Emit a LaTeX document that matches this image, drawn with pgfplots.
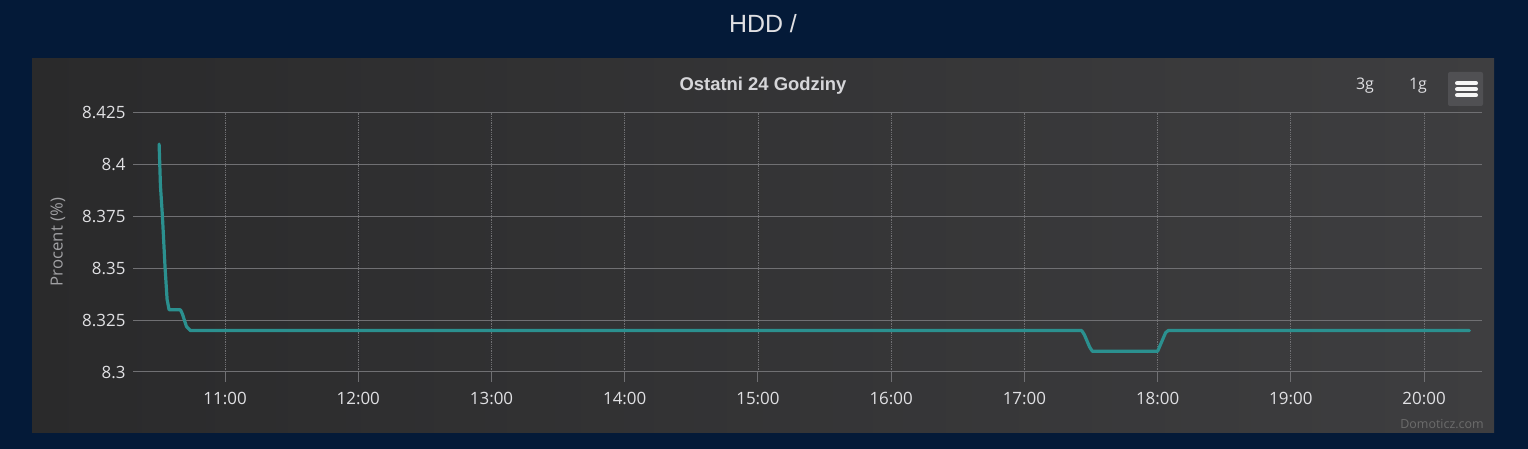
\documentclass[border=0pt]{standalone}
\usepackage{pgfplots}
\pgfplotsset{compat=1.18}
\usepackage{fontspec}
\setmainfont{Liberation Sans}
\newfontfamily\tickfont{Open Sans}
\definecolor{pagebg}{HTML}{041A38}
\definecolor{panelA}{HTML}{2A2A2B}
\definecolor{panelB}{HTML}{3E3E40}
\definecolor{gridc}{HTML}{707073}
\definecolor{txt}{HTML}{E0E0E3}
\definecolor{lbl}{HTML}{A0A0A3}
\definecolor{serie}{HTML}{2B908F}
\definecolor{btn}{HTML}{505053}
\begin{document}
\begin{tikzpicture}[x=1bp,y=1bp]
\fill[pagebg] (0,0) rectangle (1528,449);
\shade[left color=panelA,right color=panelB] (32,16) rectangle (1494,390);
\begin{axis}[
  at={(133bp,77bp)}, anchor=south west,
  scale only axis, width=1349bp, height=259bp,
  xmin=10.309, xmax=20.435, ymin=8.3, ymax=8.425,
  axis line style={draw=none},
  xtick={11,12,13,14,15,16,17,18,19,20},
  xticklabels={11:00,12:00,13:00,14:00,15:00,16:00,17:00,18:00,19:00,20:00},
  ytick={8.3,8.325,8.35,8.375,8.4,8.425},
  yticklabels={8.3,8.325,8.35,8.375,8.4,8.425},
  ymajorgrids, xmajorgrids,
  y grid style={gridc, line width=1bp},
  x grid style={gridc, line width=0.8bp, densely dotted},
  major tick length=0pt,
  tick style={draw=none},
  tick label style={font=\tickfont\fontsize{17}{20}\selectfont, text=txt},
  xticklabel style={yshift=-17bp},
  yticklabel style={xshift=-4bp},
  unbounded coords=jump,
  clip=false,
]
\addplot[gridc, line width=1bp, forget plot] coordinates {(10.309,8.3) (20.435,8.3)};
% x tick marks below the axis (10 px long)
\addplot[gridc, line width=1bp, forget plot] coordinates {
(11,8.3) (11,8.29517) (11,nan)
(12,8.3) (12,8.29517) (12,nan)
(13,8.3) (13,8.29517) (13,nan)
(14,8.3) (14,8.29517) (14,nan)
(15,8.3) (15,8.29517) (15,nan)
(16,8.3) (16,8.29517) (16,nan)
(17,8.3) (17,8.29517) (17,nan)
(18,8.3) (18,8.29517) (18,nan)
(19,8.3) (19,8.29517) (19,nan)
(20,8.3) (20,8.29517)
};
\addplot[serie, line width=3.2bp, line join=round, line cap=round] coordinates {
(10.505,8.41)
(10.515,8.39)
(10.53,8.375)
(10.55,8.35)
(10.565,8.335)
(10.58,8.33)
(10.665,8.33)
(10.68,8.328)
(10.71,8.322)
(10.74,8.32)
(17.43,8.32)
(17.45,8.318)
(17.49,8.312)
(17.51,8.31)
(18.0,8.31)
(18.02,8.313)
(18.06,8.319)
(18.08,8.32)
(20.34,8.32)
};
\end{axis}
\node[text=txt, font=\fontsize{25}{29}\selectfont] at (763,425) {HDD /};
\node[text=txt!90!gray, font=\bfseries\fontsize{18.5}{22}\selectfont] at (763,363) {Ostatni 24 Godziny};
\node[text=txt, font=\tickfont\fontsize{16}{19}\selectfont] at (1365,363) {3g};
\node[text=txt, font=\tickfont\fontsize{16}{19}\selectfont] at (1418,363) {1g};
\fill[btn, rounded corners=2bp] (1448,343) rectangle (1483,377);
\foreach \yy in {365.7,359.7,353.7} {
  \draw[white!92!gray, line width=4bp, line cap=round] (1457,\yy) -- (1476,\yy);
}
\node[text=lbl, rotate=90, font=\tickfont\fontsize{16.8}{20}\selectfont] at (58,207) {Procent (\%)};
\node[text=gray!85!black, font=\tickfont\fontsize{12.5}{15}\selectfont] at (1442,25) {Domoticz.com};
\end{tikzpicture}
\end{document}
